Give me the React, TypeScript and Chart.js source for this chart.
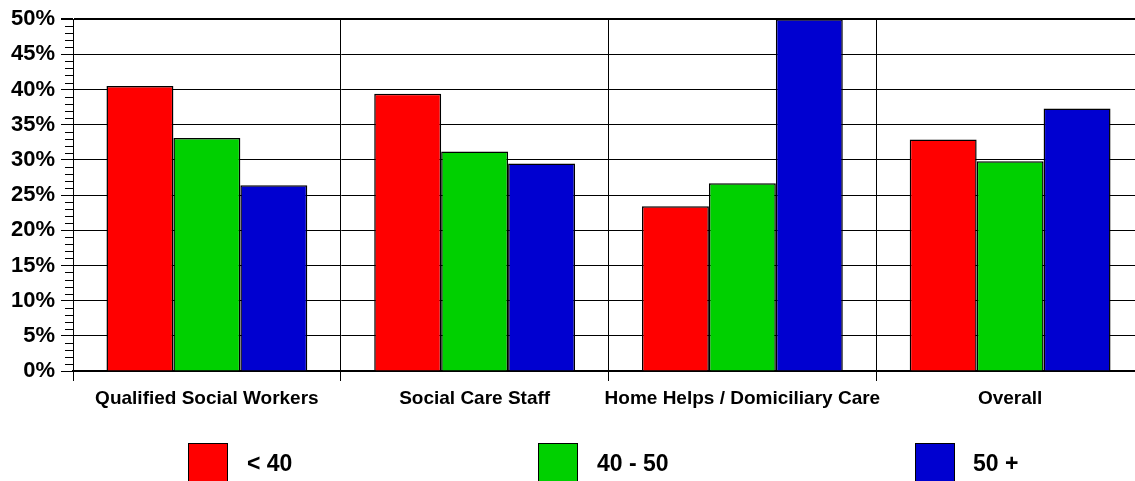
import React, { useEffect, useRef } from "react";
import { Chart, registerables } from "chart.js";

Chart.register(...registerables);

// Staff groups along the x axis
const categories = [
  "Qualified Social Workers",
  "Social Care Staff",
  "Home Helps / Domiciliary Care",
  "Overall",
];

// Age bands (percent of staff in each group)
const seriesNames = ["< 40", "40 - 50", "50 +"];
const under40 = [40.5, 39.4, 23.4, 32.9];
const age40to50 = [33.1, 31.2, 26.7, 29.8];
const over50 = [26.4, 29.5, 50.0, 37.3];
const seriesValues = [under40, age40to50, over50];
const seriesColors = ["#FF0000", "#00D000", "#0000D0"];

// Value axis
const yMin = 0;
const yMax = 50;
const yMajorStep = 5;
const yMinorStep = 1;

// Legend layout (left edges of swatch and text for each entry)
const legendSwatchX = [188, 538, 915];
const legendTextX = [247, 597, 973];

const FONT = "'Liberation Sans', Arial, Helvetica, sans-serif";

// Short minor tick marks on the left of the value axis
const minorTicksPlugin = {
  id: "minorTicks",
  afterDraw(chart: any) {
    const y = chart.scales.y;
    const ctx = chart.ctx;
    const left = chart.chartArea.left;
    ctx.save();
    ctx.strokeStyle = "#000";
    ctx.lineWidth = 1;
    for (let v = yMin; v <= yMax; v += yMinorStep) {
      if (v % yMajorStep === 0) continue;
      const py = Math.round(y.getPixelForValue(v)) + 0.5;
      ctx.beginPath();
      ctx.moveTo(left - 8, py);
      ctx.lineTo(left, py);
      ctx.stroke();
    }
    ctx.restore();
  },
};

export default function App() {
  const canvasRef = useRef<HTMLCanvasElement | null>(null);

  useEffect(() => {
    if (!canvasRef.current) return;
    const chart = new Chart(canvasRef.current, {
      type: "bar",
      data: {
        labels: categories,
        datasets: seriesNames.map((name, i) => ({
          label: name,
          data: seriesValues[i],
          backgroundColor: seriesColors[i],
          borderColor: "#000",
          borderWidth: 1.5,
          categoryPercentage: 0.75,
          barPercentage: 1.0,
        })),
      },
      options: {
        responsive: false,
        animation: false,
        devicePixelRatio: 1,
        layout: { padding: { top: 17, right: 6, bottom: 0, left: 0 } },
        plugins: {
          legend: { display: false },
          tooltip: { enabled: false },
        },
        scales: {
          x: {
            offset: true,
            grid: {
              offset: true,
              color: "#000",
              lineWidth: 1,
              tickLength: 10,
              drawOnChartArea: true,
            },
            border: { display: true, color: "#000", width: 2 },
            ticks: {
              color: "#000",
              maxRotation: 0,
              autoSkip: false,
              padding: 6,
              font: { family: FONT, size: 19, weight: "bold" },
            },
            afterFit(scale: any) {
              scale.height = 110;
            },
          },
          y: {
            min: yMin,
            max: yMax,
            grid: {
              color: "#000",
              lineWidth: (ctx: any) => (ctx.tick && ctx.tick.value === yMax ? 2 : 1),
              tickLength: 12,
            },
            border: { display: true, color: "#000", width: 1 },
            ticks: {
              stepSize: yMajorStep,
              color: "#000",
              padding: 6,
              font: { family: FONT, size: 22, weight: "bold" },
              callback: (v: any) => `${v}%`,
            },
            afterFit(scale: any) {
              scale.width = 73;
            },
          },
        },
      },
      plugins: [minorTicksPlugin],
    });
    return () => chart.destroy();
  }, []);

  return (
    <div
      style={{
        position: "absolute",
        left: 0,
        top: 0,
        width: 1135,
        height: 481,
        overflow: "hidden",
        background: "#fff",
      }}
    >
      <canvas ref={canvasRef} width={1150} height={481} style={{ display: "block" }} />
      {seriesNames.map((name, i) => (
        <React.Fragment key={name}>
          <div
            style={{
              position: "absolute",
              left: legendSwatchX[i],
              top: 443,
              width: 40,
              height: 44,
              boxSizing: "border-box",
              background: seriesColors[i],
              border: "1px solid #000",
            }}
          />
          <div
            style={{
              position: "absolute",
              left: legendTextX[i],
              top: 452,
              fontFamily: FONT,
              fontWeight: "bold",
              fontSize: 23,
              lineHeight: "23px",
              color: "#000",
              whiteSpace: "nowrap",
            }}
          >
            {name}
          </div>
        </React.Fragment>
      ))}
    </div>
  );
}
